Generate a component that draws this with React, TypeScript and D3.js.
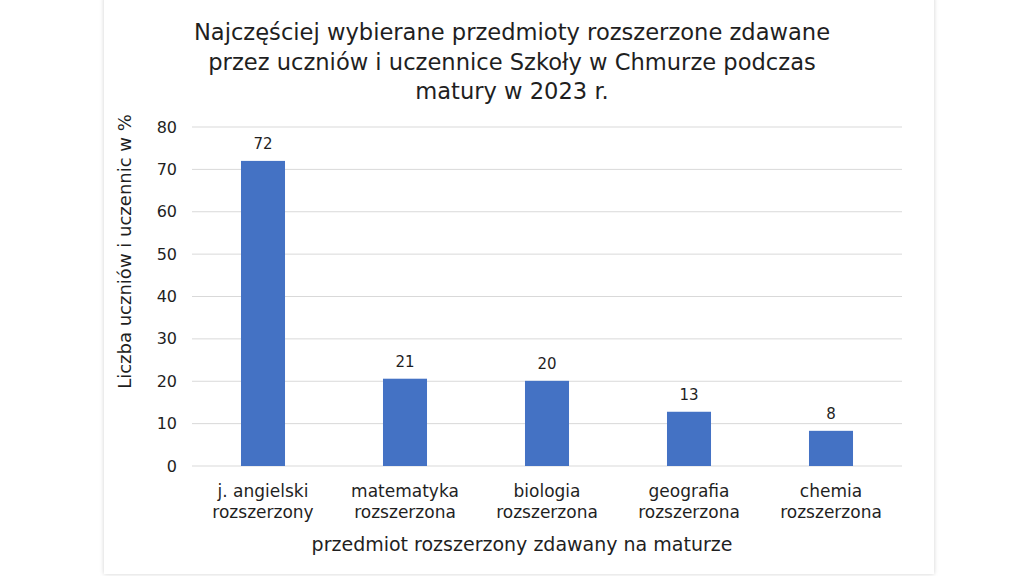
import React from "react";
import * as d3 from "d3";

const titleLines = [
  "Najczęściej wybierane przedmioty rozszerzone zdawane",
  "przez uczniów i uczennice Szkoły w Chmurze podczas",
  "matury w 2023 r.",
];
const categories = [
  ["j. angielski", "rozszerzony"],
  ["matematyka", "rozszerzona"],
  ["biologia", "rozszerzona"],
  ["geografia", "rozszerzona"],
  ["chemia", "rozszerzona"],
];
const values = [72, 20.6, 20.1, 12.8, 8.3];
const valueLabels = ["72", "21", "20", "13", "8"];
const yTicks = [0, 10, 20, 30, 40, 50, 60, 70, 80];
const xAxisTitle = "przedmiot rozszerzony zdawany na maturze";
const yAxisTitle = "Liczba uczniów i uczennic w %";

const W = 1024;
const H = 576;
const left = 192;
const right = 902;
const top = 127;
const bottom = 466;
const font = "'DejaVu Sans', sans-serif";
const textColor = "#1f1f1f";

export default function App() {
  const x = d3
    .scaleBand<number>()
    .domain(categories.map((_, i) => i))
    .range([left, right])
    .paddingInner(0.69)
    .paddingOuter(0.345);
  const y = d3.scaleLinear().domain([0, 80]).range([bottom, top]);

  return (
    <svg
      width={W}
      height={H}
      style={{ position: "absolute", left: 0, top: 0, background: "#fff" }}
    >
      <defs>
        <filter id="sh" x="-5%" y="-5%" width="110%" height="110%">
          <feDropShadow dx="0" dy="0" stdDeviation="2" floodColor="#000" floodOpacity="0.18" />
        </filter>
      </defs>
      <rect x={0} y={0} width={W} height={H} fill="#fff" />
      <rect x={104} y={-4} width={830} height={578} fill="#fff" filter="url(#sh)" />
      {titleLines.map((t, i) => (
        <text
          key={i}
          x={512}
          y={40 + i * 29.5}
          textAnchor="middle"
          fontFamily={font}
          fontSize={22.6}
          fill={textColor}
        >
          {t}
        </text>
      ))}
      {yTicks.map((t) => (
        <g key={t}>
          <line x1={left} x2={right} y1={y(t)} y2={y(t)} stroke="#d9d9d9" strokeWidth={1} />
          <text
            x={177}
            y={y(t)}
            dy="0.35em"
            textAnchor="end"
            fontFamily={font}
            fontSize={16}
            fill={textColor}
          >
            {t}
          </text>
        </g>
      ))}
      {values.map((v, i) => (
        <g key={i}>
          <rect
            x={x(i)!}
            y={y(v)}
            width={x.bandwidth()}
            height={y(0) - y(v)}
            fill="#4472C4"
          />
          <text
            x={x(i)! + x.bandwidth() / 2}
            y={y(v) - 12}
            textAnchor="middle"
            fontFamily={font}
            fontSize={15}
            fill={textColor}
          >
            {valueLabels[i]}
          </text>
          {categories[i].map((l, j) => (
            <text
              key={j}
              x={x(i)! + x.bandwidth() / 2}
              y={497 + j * 21}
              textAnchor="middle"
              fontFamily={font}
              fontSize={17}
              fill={textColor}
            >
              {l}
            </text>
          ))}
        </g>
      ))}
      <text
        x={522}
        y={551}
        textAnchor="middle"
        fontFamily={font}
        fontSize={19}
        fill={textColor}
      >
        {xAxisTitle}
      </text>
      <text
        transform={`translate(131, ${(top + bottom) / 2 - 45}) rotate(-90)`}
        textAnchor="middle"
        fontFamily={font}
        fontSize={18}
        fill={textColor}
      >
        {yAxisTitle}
      </text>
    </svg>
  );
}
